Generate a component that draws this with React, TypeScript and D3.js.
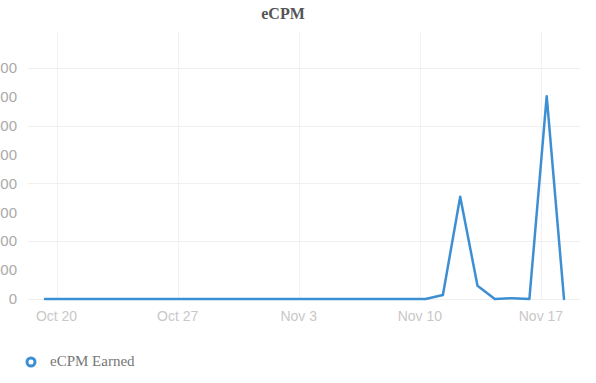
import React from "react";
import * as d3 from "d3";

// Daily eCPM readings (UTC, stamped at 08:00)
const dates: string[] = [
  "2019-10-19", "2019-10-20", "2019-10-21", "2019-10-22", "2019-10-23",
  "2019-10-24", "2019-10-25", "2019-10-26", "2019-10-27", "2019-10-28",
  "2019-10-29", "2019-10-30", "2019-10-31", "2019-11-01", "2019-11-02",
  "2019-11-03", "2019-11-04", "2019-11-05", "2019-11-06", "2019-11-07",
  "2019-11-08", "2019-11-09", "2019-11-10", "2019-11-11", "2019-11-12",
  "2019-11-13", "2019-11-14", "2019-11-15", "2019-11-16", "2019-11-17",
  "2019-11-18",
];
const ecpm: number[] = [
  0, 0, 0, 0, 0, 0, 0, 0, 0, 0,
  0, 0, 0, 0, 0, 0, 0, 0, 0, 0,
  0, 0, 0, 14, 354, 46, 0, 3, 0, 702,
  0,
];
const yTicks: number[] = [0, 100, 200, 300, 400, 500, 600, 700, 800];
const xTickDates: string[] = ["2019-10-20", "2019-10-27", "2019-11-03", "2019-11-10", "2019-11-17"];
const chartTitle = "eCPM";
const seriesName = "eCPM Earned";

const W = 596;
const H = 383;
const BLUE = "#3d8fd3";

const parseDay = d3.utcParse("%Y-%m-%d");
const stamp = (s: string) => d3.utcHour.offset(parseDay(s) as Date, 8);

export default function App() {
  const points = dates.map((d, i) => ({ t: stamp(d), v: ecpm[i] }));

  const x = d3
    .scaleUtc()
    .domain([points[0].t, points[points.length - 1].t])
    .range([45, 564]);
  const y = d3.scaleLinear().domain([0, 900]).range([299, 39]);

  const plotLeft = 28;
  const plotRight = 580;
  const gridTop = y(900) - 7;

  const line = d3
    .line<{ t: Date; v: number }>()
    .x((d) => x(d.t))
    .y((d) => y(d.v));

  const fmt = d3.utcFormat("%b %-d");
  const sans = "'Liberation Sans', Arial, sans-serif";
  const serif = "'Liberation Serif', 'Times New Roman', serif";

  return (
    <svg
      width={W}
      height={H}
      viewBox={`0 0 ${W} ${H}`}
      style={{ position: "absolute", left: 0, top: 0, background: "#fff" }}
    >
      <rect width={W} height={H} fill="#fff" />
      <text
        x={283}
        y={19}
        textAnchor="middle"
        fontFamily={serif}
        fontWeight="bold"
        fontSize={16}
        fill="#555"
      >
        {chartTitle}
      </text>

      {/* vertical grid at weekly ticks */}
      {xTickDates.map((s) => {
        const xx = Math.round(x(parseDay(s) as Date)) + 0.5;
        return (
          <line key={"vg" + s} x1={xx} x2={xx} y1={gridTop} y2={y(0)} stroke="#f2f2f2" strokeWidth={1} />
        );
      })}

      {/* horizontal grid on every other tick */}
      {yTicks
        .filter((_, i) => i % 2 === 0)
        .map((t) => {
          const yy = Math.round(y(t)) + 0.5;
          return (
            <line key={"hg" + t} x1={plotLeft} x2={plotRight} y1={yy} y2={yy} stroke="#efefef" strokeWidth={1} />
          );
        })}

      {/* y-axis labels */}
      {yTicks.map((t) => (
        <text
          key={"yl" + t}
          x={17}
          y={y(t)}
          dy="0.35em"
          textAnchor="end"
          fontFamily={sans}
          fontSize={15}
          fill="#aaa"
        >
          {t}
        </text>
      ))}

      {/* x-axis labels */}
      {xTickDates.map((s) => (
        <text
          key={"xl" + s}
          x={x(parseDay(s) as Date)}
          y={321}
          textAnchor="middle"
          fontFamily={sans}
          fontSize={14}
          fill="#c8c8c8"
        >
          {fmt(parseDay(s) as Date)}
        </text>
      ))}

      <path
        d={line(points) ?? ""}
        fill="none"
        stroke={BLUE}
        strokeWidth={2.5}
        strokeLinejoin="round"
        strokeLinecap="round"
      />

      {/* legend */}
      <circle cx={31} cy={362} r={4} fill="#fff" stroke={BLUE} strokeWidth={3} />
      <text x={50} y={366} fontFamily={serif} fontSize={15} fill="#777">
        {seriesName}
      </text>
    </svg>
  );
}
